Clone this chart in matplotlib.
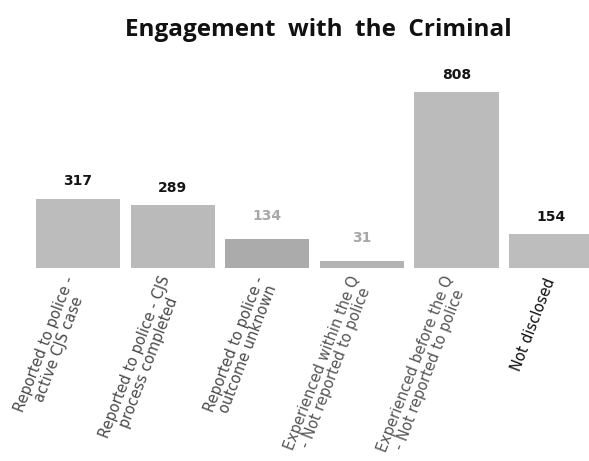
import matplotlib
matplotlib.use("Agg")
import matplotlib.pyplot as plt
import matplotlib.transforms as mtransforms

# data
categories = [
    "Reported to police -\nactive CJS case",
    "Reported to police - CJS\nprocess completed",
    "Reported to police -\noutcome unknown",
    "Experienced within the Q\n- Not reported to police",
    "Experienced before the Q\n- Not reported to police",
    "Not disclosed",
]
counts = [317, 289, 134, 31, 808, 154]

bar_colors = ["#bcbcbc", "#bababa", "#ababab", "#b3b3b3", "#bbbbbb", "#bdbdbd"]
value_colors = ["#151515", "#151515", "#a8a8a8", "#a8a8a8", "#151515", "#151515"]
label_colors = ["#4a4a4a", "#4a4a4a", "#4a4a4a", "#555555", "#555555", "#111111"]

fig = plt.figure(figsize=(5.89, 4.61), dpi=100)
ax = fig.add_axes([0.0, 0.4187, 1.0, 0.5813])

x = list(range(len(categories)))
ax.bar(x, counts, width=0.89, color=bar_colors)

for xi, v, c in zip(x, counts, value_colors):
    off = 7.5 if c == "#151515" else 11.5
    ax.annotate(str(v), (xi, v), xytext=(0, off), textcoords="offset points",
                ha="center", va="bottom", fontsize=10, fontweight="bold",
                color=c, family="DejaVu Sans")

ax.set_xlim(-0.825, 5.40)
ax.set_ylim(0, 1230)

ax.set_xticks(x)
ax.set_xticklabels(categories, rotation=69, ha="right", va="center",
                   rotation_mode="anchor", multialignment="center",
                   fontsize=10.5, family="DejaVu Sans", linespacing=1.0)
shift = mtransforms.ScaledTranslation(13 / 100, 0, fig.dpi_scale_trans)
for lab, c in zip(ax.get_xticklabels(), label_colors):
    lab.set_color(c)
    lab.set_transform(lab.get_transform() + shift)
ax.tick_params(axis="x", length=0, pad=8)
ax.set_yticks([])
for s in ax.spines.values():
    s.set_visible(False)

fig.text(0.54, 0.935, "Engagement  with  the  Criminal", ha="center", va="center",
         fontsize=17.5, fontweight="bold", color="#111111", family="Open Sans")

fig.savefig("out.png", dpi=100)
